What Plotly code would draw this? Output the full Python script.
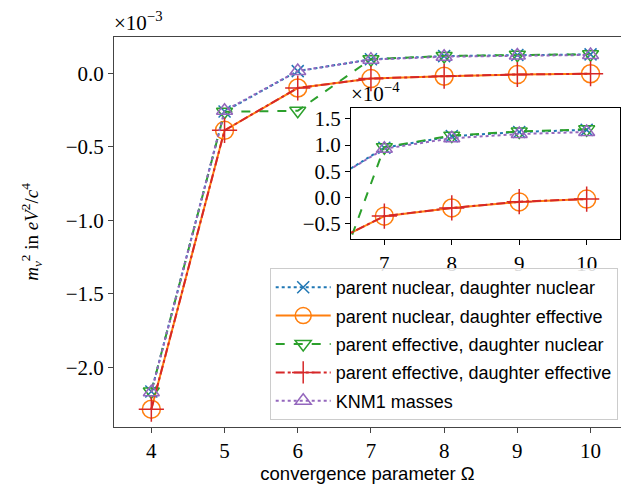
import plotly.graph_objects as go

omega = [4, 5, 6, 7, 8, 9, 10]
# m_nu^2 in eV^2/c^4
nn = [-2.165e-3, -2.60e-4, 1.5e-5, 9.5e-5, 1.17e-4, 1.25e-4, 1.29e-4]
ne = [-2.285e-3, -3.88e-4, -1.00e-4, -3.57e-5, -2.0e-5, -8.5e-6, -3.0e-6]
en = [-2.165e-3, -2.62e-4, -2.55e-4, 9.6e-5, 1.18e-4, 1.26e-4, 1.30e-4]
ee = [-2.285e-3, -3.88e-4, -1.00e-4, -3.55e-5, -2.0e-5, -8.0e-6, -3.0e-6]
knm1 = [-2.17e-3, -2.55e-4, 1.6e-5, 9.3e-5, 1.13e-4, 1.21e-4, 1.25e-4]

names = ["parent nuclear, daughter nuclear", "parent nuclear, daughter effective",
         "parent effective, daughter nuclear", "parent effective, daughter effective",
         "KNM1 masses"]
series = [nn, ne, en, ee, knm1]
colors = ["#1f77b4", "#ff7f0e", "#2ca02c", "#d62728", "#9467bd"]
dashes = ["dot", "solid", "dash", "dashdot", "dot"]
symbols = ["x-thin-open", "circle-open", "triangle-down-open", "cross-thin-open", "triangle-up-open"]
msizes = [12, 18, 14, 18, 14]

main_ticks = [0.0, -0.5, -1.0, -1.5, -2.0]
inset_yticks = [-0.5, 0.0, 0.5, 1.0, 1.5]
inset_xticks = [7, 8, 9, 10]

SERIF = "Liberation Serif"
SANS = "Liberation Sans"

fig = go.Figure()
for i, (vals, nm, c, d, s, ms) in enumerate(zip(series, names, colors, dashes, symbols, msizes)):
    fig.add_trace(go.Scatter(
        x=omega, y=[v * 1e3 for v in vals], name=nm, mode="lines+markers",
        legendgroup=f"g{i}",
        line=dict(color=c, width=2, dash=d),
        marker=dict(symbol=s, size=ms, color=c, line=dict(color=c, width=1.5)),
        xaxis="x", yaxis="y"))
for i, (vals, nm, c, d, s, ms) in enumerate(zip(series, names, colors, dashes, symbols, msizes)):
    fig.add_trace(go.Scatter(
        x=omega, y=[v * 1e4 for v in vals], name=nm, mode="lines+markers",
        showlegend=False, legendgroup=f"g{i}",
        line=dict(color=c, width=2, dash=d),
        marker=dict(symbol=s, size=ms, color=c, line=dict(color=c, width=1.5)),
        xaxis="x2", yaxis="y2"))

axis_common = dict(showgrid=False, zeroline=False, showline=True,
                   ticks="outside", ticklen=5, tickwidth=1)

fig.update_layout(
    width=621, height=484,
    margin=dict(l=114, r=0, t=37, b=57),
    plot_bgcolor="white", paper_bgcolor="white",
    font=dict(family=SERIF, size=21, color="black"),
    xaxis=dict(**axis_common, mirror=True, domain=[0, 1], range=[3.49, 10.416],
               tickvals=omega, tickformat="d", linecolor="#444", tickcolor="#444",
               tickfont=dict(family=SERIF, size=21),
               title=dict(text="convergence parameter Ω", font=dict(family=SANS, size=18.5),
                          standoff=4)),
    yaxis=dict(**axis_common, mirror=False, domain=[0, 1], range=[-2.406, 0.247],
               tickvals=main_ticks, tickformat=".1f", linecolor="#444", tickcolor="#444",
               tickfont=dict(family=SERIF, size=21),
               title=dict(text="<i>m</i><sub><i>ν</i></sub><sup>2</sup> in <i>eV</i><sup>2</sup>/<i>c</i><sup>4</sup>",
                          font=dict(family=SERIF, size=19), standoff=22)),
    xaxis2=dict(**axis_common, mirror=True, domain=[0.4675, 0.998], range=[6.506, 10.494], anchor="y2",
                tickvals=inset_xticks, tickformat="d", linecolor="black", tickcolor="black",
                tickfont=dict(family=SERIF, size=21)),
    yaxis2=dict(**axis_common, mirror=True, domain=[0.481, 0.817], range=[-0.80, 1.70], anchor="x2",
                tickvals=inset_yticks, tickformat=".1f", linecolor="black", tickcolor="black",
                tickfont=dict(family=SERIF, size=21)),
    legend=dict(x=0.9935, y=0.018, xanchor="right", yanchor="bottom",
                bgcolor="rgba(255,255,255,0.85)", bordercolor="#cccccc", borderwidth=1,
                font=dict(family=SANS, size=18), itemwidth=55, tracegroupgap=2),
    annotations=[
        dict(text="×10<sup>−3</sup>", xref="paper", yref="paper", x=0, y=1,
             xanchor="left", yanchor="bottom", showarrow=False,
             font=dict(family=SERIF, size=21), xshift=-2),
        dict(text="×10<sup>−4</sup>", xref="paper", yref="paper", x=0.4675, y=0.817,
             xanchor="left", yanchor="bottom", showarrow=False,
             font=dict(family=SERIF, size=21), xshift=-2),
    ],
)

fig.write_html("out.html", config={"displayModeBar": False},
               post_script="document.body.style.margin='0px';")
